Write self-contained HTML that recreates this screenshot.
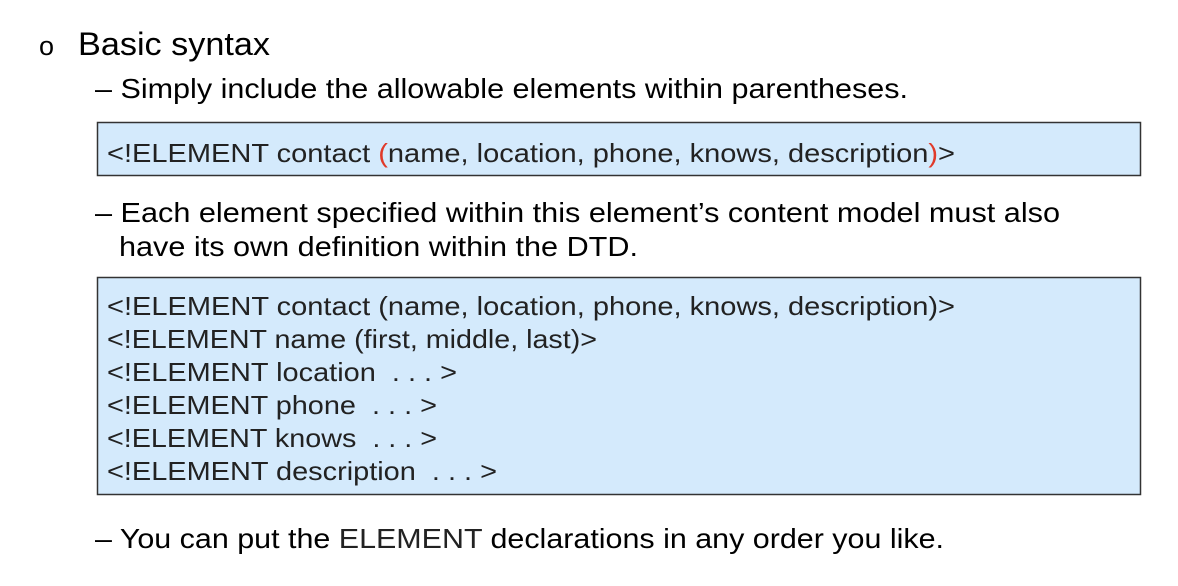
<!DOCTYPE html>
<html><head><meta charset="utf-8"><style>
html,body{margin:0;padding:0;background:#fff;}
svg{display:block;}
text{font-family:"Liberation Sans",sans-serif;}
.m{fill:#000;}
.c{fill:#222;font-size:26px;}
</style></head><body>
<svg width="1178" height="586" viewBox="0 0 1178 586" xmlns="http://www.w3.org/2000/svg">
<text x="39" y="55" font-size="27" class="m">o</text>
<text x="78" y="55" font-size="32" class="m" textLength="192" lengthAdjust="spacingAndGlyphs">Basic syntax</text>
<text x="95" y="98" font-size="28" class="m" textLength="813" lengthAdjust="spacingAndGlyphs">– Simply include the allowable elements within parentheses.</text>
<rect x="97.5" y="122.5" width="1043" height="53" fill="#d4eafc" stroke="#333" stroke-width="1.5"/>
<text x="107" y="162" class="c" textLength="848" lengthAdjust="spacingAndGlyphs">&lt;!ELEMENT contact <tspan fill="#e03a2a">(</tspan>name, location, phone, knows, description<tspan fill="#e03a2a">)</tspan>&gt;</text>
<text x="95" y="222" font-size="28" class="m" textLength="965" lengthAdjust="spacingAndGlyphs">– Each element specified within this element’s content model must also</text>
<text x="119" y="256" font-size="28" class="m" textLength="519" lengthAdjust="spacingAndGlyphs">have its own definition within the DTD.</text>
<rect x="97.5" y="277.5" width="1043" height="217" fill="#d4eafc" stroke="#333" stroke-width="1.5"/>
<text x="107" y="315" class="c" textLength="848" lengthAdjust="spacingAndGlyphs">&lt;!ELEMENT contact (name, location, phone, knows, description)&gt;</text>
<text x="107" y="348" class="c" textLength="490" lengthAdjust="spacingAndGlyphs">&lt;!ELEMENT name (first, middle, last)&gt;</text>
<text x="107" y="381" class="c" textLength="350" lengthAdjust="spacingAndGlyphs">&lt;!ELEMENT location&#160;&#160;. . .&#160;&gt;</text>
<text x="107" y="414" class="c" textLength="330" lengthAdjust="spacingAndGlyphs">&lt;!ELEMENT phone&#160;&#160;. . .&#160;&gt;</text>
<text x="107" y="447" class="c" textLength="330" lengthAdjust="spacingAndGlyphs">&lt;!ELEMENT knows&#160;&#160;. . .&#160;&gt;</text>
<text x="107" y="480" class="c" textLength="390" lengthAdjust="spacingAndGlyphs">&lt;!ELEMENT description&#160;&#160;. . .&#160;&gt;</text>
<text x="95" y="548" font-size="28" class="m" textLength="849" lengthAdjust="spacingAndGlyphs">– You can put the <tspan fill="#222">ELEMENT</tspan> declarations in any order you like.</text>
</svg>
</body></html>
